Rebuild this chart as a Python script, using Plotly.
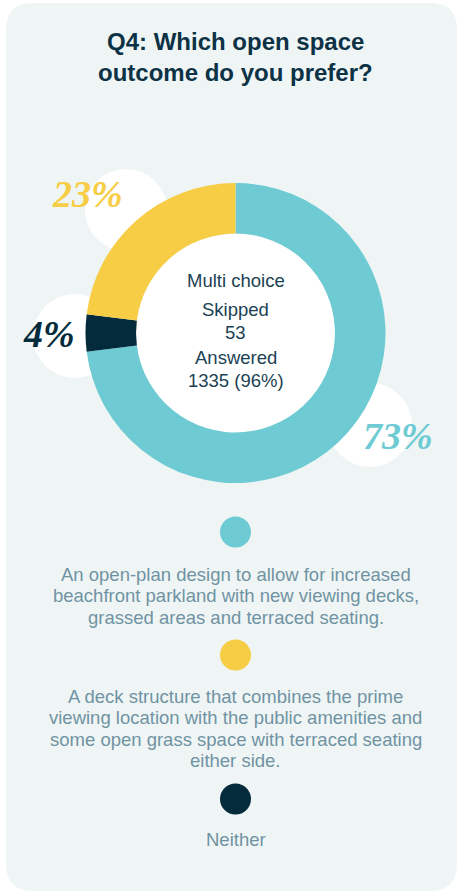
import plotly.graph_objects as go

# ---- survey data -------------------------------------------------------
question_lines = ["Q4: Which open space", "outcome do you prefer?"]
option_lines = [
    ["An open-plan design to allow for increased",
     "beachfront parkland with new viewing decks,",
     "grassed areas and terraced seating."],
    ["A deck structure that combines the prime",
     "viewing location with the public amenities and",
     "some open grass space with terraced seating",
     "either side."],
    ["Neither"],
]
shares = [73, 23, 4]                      # percent per option
colors = ["#6ecbd3", "#f6cd45", "#032b3b"]
pie_order = [0, 2, 1]                     # clockwise slice order from 12 o'clock
question_type = "Multi choice"
skipped = 53
answered = 1335
answered_pct = 96

# ---- layout constants ---------------------------------------------------
W, H = 457, 892
CX, CY, R = 235.5, 333, 150               # donut centre / outer radius (px)
HOLE = 0.663
card_bg = "#eff5f5"
title_color = "#0d3246"
center_color = "#1b4254"
legend_color = "#6f93a3"
# bubble (centre, radius) and text position for each percentage label
bubble_pos = [(370, 425, 42), (126, 210, 41), (75, 336, 42)]
label_pos = [(398, 436), (87, 194), (49, 334)]
dot_y = [532, 655, 799]
text_top = [574, 696, 839]
LEGEND_LH = 21.6

fig = go.Figure()

# donut
fig.add_trace(go.Pie(
    values=[shares[i] for i in pie_order],
    labels=[option_lines[i][0] for i in pie_order],
    marker=dict(colors=[colors[i] for i in pie_order], line=dict(width=0)),
    hole=HOLE, sort=False, direction="clockwise", rotation=0,
    textinfo="none", hoverinfo="skip", showlegend=False,
    domain=dict(x=[(CX - R) / W, (CX + R) / W],
                y=[1 - (CY + R) / H, 1 - (CY - R) / H]),
))

# legend dots
fig.add_trace(go.Scatter(
    x=[CX] * len(shares), y=dot_y, mode="markers",
    marker=dict(size=31, color=colors, line=dict(width=0)),
    hoverinfo="skip", showlegend=False,
))

shapes = []
# rounded card
x0, y0, x1, y1, rr = 6, 3, 457, 891, 27
card = (f"M{x0 + rr},{y0} L{x1 - rr},{y0} Q{x1},{y0} {x1},{y0 + rr} "
        f"L{x1},{y1 - rr} Q{x1},{y1} {x1 - rr},{y1} L{x0 + rr},{y1} "
        f"Q{x0},{y1} {x0},{y1 - rr} L{x0},{y0 + rr} Q{x0},{y0} {x0 + rr},{y0} Z")
shapes.append(dict(type="path", path=card, xref="x", yref="y", layer="below",
                   fillcolor=card_bg, line=dict(width=0)))
# white bubbles behind percentage labels
for bx, by, br in bubble_pos:
    shapes.append(dict(type="circle", xref="x", yref="y", layer="below",
                       x0=bx - br, x1=bx + br, y0=by - br, y1=by + br,
                       fillcolor="white", line=dict(width=0)))
# white donut centre
hr = R * HOLE
shapes.append(dict(type="circle", xref="x", yref="y", layer="below",
                   x0=CX - hr, x1=CX + hr, y0=CY - hr, y1=CY + hr,
                   fillcolor="white", line=dict(width=0)))

ann = []
sans = "Liberation Sans, Arial, sans-serif"
# title
for i, line in enumerate(question_lines):
    ann.append(dict(x=CX, y=41 + i * 31, text=f"<b>{line}</b>", showarrow=False,
                    xref="x", yref="y", xanchor="center", yanchor="middle",
                    font=dict(family=sans, size=24, color=title_color)))
# centre statistics
center_lines = [(question_type, 280), ("Skipped", 309), (str(skipped), 332),
                ("Answered", 357), (f"{answered} ({answered_pct}%)", 380)]
for txt, yy in center_lines:
    ann.append(dict(x=CX, y=yy, text=txt, showarrow=False, xref="x", yref="y",
                    xanchor="center", yanchor="middle",
                    font=dict(family=sans, size=18.5, color=center_color)))
# percentage labels
for (lx, ly), v, c in zip(label_pos, shares, colors):
    ann.append(dict(x=lx, y=ly, text=f"{v}%", showarrow=False, xref="x", yref="y",
                    xanchor="center", yanchor="middle",
                    font=dict(family="Liberation Serif, DejaVu Serif, serif",
                              size=38, color=c, style="italic", weight="bold")))
# legend texts
for lines, ty in zip(option_lines, text_top):
    for j, line in enumerate(lines):
        ann.append(dict(x=CX, y=ty + j * LEGEND_LH, text=line, showarrow=False,
                        xref="x", yref="y", xanchor="center", yanchor="middle",
                        font=dict(family=sans, size=18.5, color=legend_color)))

fig.update_layout(
    width=W, height=H, margin=dict(l=0, r=0, t=0, b=0),
    paper_bgcolor="white", plot_bgcolor="rgba(0,0,0,0)",
    xaxis=dict(range=[0, W], visible=False, fixedrange=True, domain=[0, 1]),
    yaxis=dict(range=[H, 0], visible=False, fixedrange=True, domain=[0, 1]),
    shapes=shapes, annotations=ann, showlegend=False,
)

fig.write_html("out.html", config={"displayModeBar": False})
